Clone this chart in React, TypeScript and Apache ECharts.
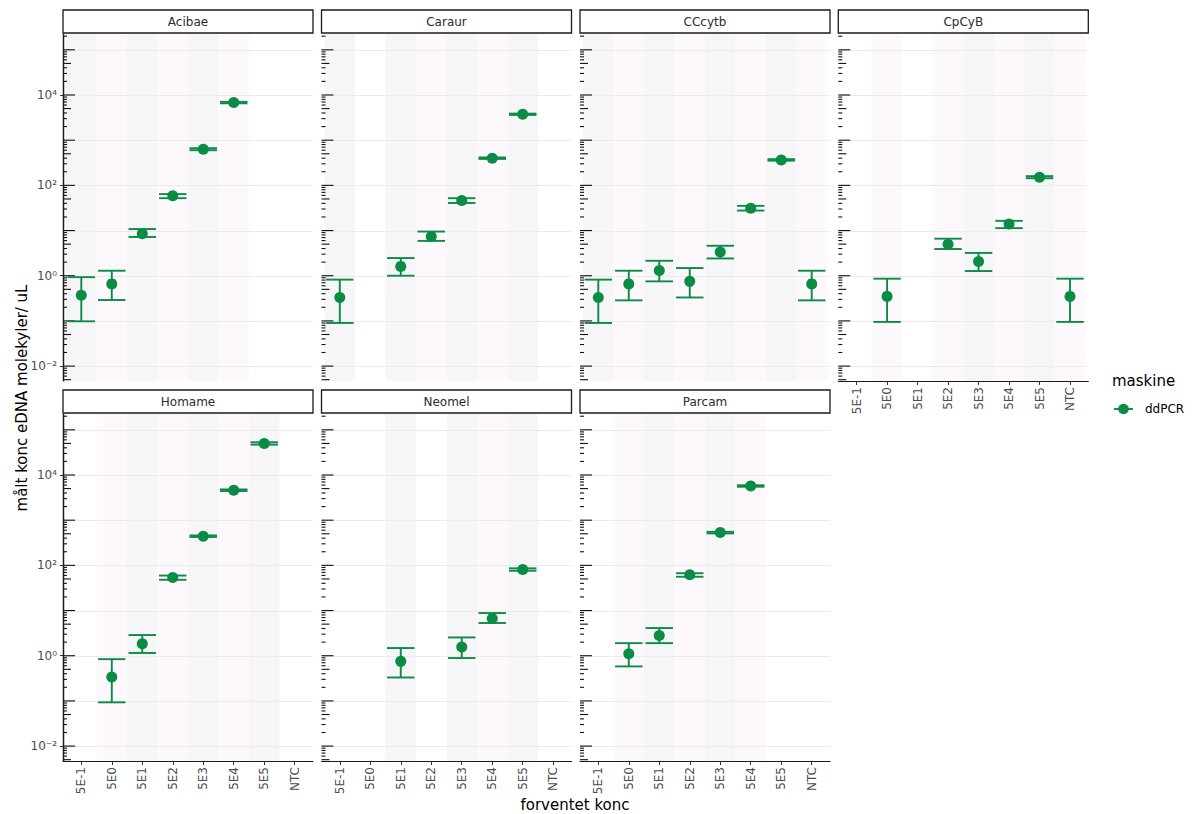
import React, { useEffect, useRef } from 'react';
import * as echarts from 'echarts';

// ---------- data ----------
const categories = ['5E-1', '5E0', '5E1', '5E2', '5E3', '5E4', '5E5', 'NTC'];
const panelNames = ['Acibae', 'Caraur', 'CCcytb', 'CpCyB', 'Homame', 'Neomel', 'Parcam'];
const legendTitle = 'maskine';
const seriesName = 'ddPCR';
const xTitle = 'forventet konc';
const yTitle = 'målt konc eDNA molekyler/ uL';

// [expected concentration, mean, lower, upper]
type Row = [string, number, number, number];
const acibae: Row[] = [
  ['5E-1', 0.37, 0.098, 0.93],
  ['5E0', 0.66, 0.29, 1.29],
  ['5E1', 8.5, 7.2, 10.8],
  ['5E2', 58.6, 52, 64],
  ['5E3', 630, 600, 665],
  ['5E4', 6800, 6550, 7050],
];
const caraur: Row[] = [
  ['5E-1', 0.33, 0.09, 0.82],
  ['5E1', 1.61, 1.0, 2.46],
  ['5E2', 7.4, 5.9, 9.5],
  ['5E3', 46, 40.7, 52],
  ['5E4', 400, 385, 415],
  ['5E5', 3740, 3620, 3870],
];
const cccytb: Row[] = [
  ['5E-1', 0.33, 0.09, 0.82],
  ['5E0', 0.66, 0.285, 1.29],
  ['5E1', 1.31, 0.75, 2.14],
  ['5E2', 0.75, 0.33, 1.48],
  ['5E3', 3.34, 2.41, 4.6],
  ['5E4', 31.3, 27.7, 35.2],
  ['5E5', 366, 352, 380],
  ['NTC', 0.66, 0.285, 1.29],
];
const cpcyb: Row[] = [
  ['5E0', 0.349, 0.095, 0.86],
  ['5E2', 5.0, 3.9, 6.6],
  ['5E3', 2.07, 1.27, 3.2],
  ['5E4', 13.9, 11.3, 16.4],
  ['5E5', 152, 144, 160],
  ['NTC', 0.349, 0.095, 0.86],
];
const homame: Row[] = [
  ['5E0', 0.338, 0.093, 0.84],
  ['5E1', 1.84, 1.15, 2.87],
  ['5E2', 53.8, 47.9, 59.5],
  ['5E3', 442, 425, 460],
  ['5E4', 4600, 4420, 4790],
  ['5E5', 50000, 47000, 53000],
];
const neomel: Row[] = [
  ['5E1', 0.75, 0.33, 1.48],
  ['5E3', 1.56, 0.89, 2.54],
  ['5E4', 6.7, 5.3, 8.8],
  ['5E5', 81, 76, 86],
];
const parcam: Row[] = [
  ['5E0', 1.1, 0.58, 1.9],
  ['5E1', 2.81, 1.9, 4.1],
  ['5E2', 61.7, 56, 67],
  ['5E3', 531, 510, 552],
  ['5E4', 5710, 5500, 5930],
];
const panelData: Row[][] = [acibae, caraur, cccytb, cpcyb, homame, neomel, parcam];

const yTickValues = [0.01, 1, 100, 10000];
const yTickLabels = ['10⁻²', '10⁰', '10²', '10⁴'];
const gridDecades = [-2, -1, 0, 1, 2, 3, 4, 5];
const logTickMultipliers = [1, 2, 3, 4, 5, 6, 7, 8, 9];
const logTickDecades = [-3, -2, -1, 0, 1, 2, 3, 4, 5];

// ---------- styling / layout ----------
const GREEN = '#0A8C45';
const FONT = 'DejaVu Sans';
const Y_MIN = Math.pow(10, -2.33);
const Y_MAX = Math.pow(10, 5.35);
const X_MIN = -0.6;
const X_MAX = 7.6;
const PANEL_W = 250;
const PANEL_H = 347;
const COL_LEFT = [63, 321.5, 580, 838.3];
const ROW_TOP = [34, 414];
const STRIP_H = 23;

const STRIPE_EVEN = '#F6F5F8';
const STRIPE_ODD = '#FDF8FC';
const GRID_COLOR = '#EBEBEB';

function buildOption() {
  const grids: any[] = [];
  const xAxes: any[] = [];
  const yAxes: any[] = [];
  const series: any[] = [];
  const graphics: any[] = [];

  const logTicks: number[][] = [];
  logTickDecades.forEach((d) => {
    logTickMultipliers.forEach((m) => {
      const v = m * Math.pow(10, d);
      if (v >= Y_MIN && v <= Y_MAX) logTicks.push([X_MIN, v, m]);
    });
  });
  const gridLines = gridDecades.map((d) => [X_MIN, Math.pow(10, d)]);

  panelNames.forEach((name, p) => {
    const row = p < 4 ? 0 : 1;
    const col = p < 4 ? p : p - 4;
    const left = COL_LEFT[col];
    const top = ROW_TOP[row];
    const showX = row === 1 || p === 3;
    const showY = col === 0;

    grids.push({ left, top, width: PANEL_W, height: PANEL_H, containLabel: false });

    xAxes.push({
      type: 'value',
      gridIndex: p,
      min: X_MIN,
      max: X_MAX,
      splitLine: { show: false },
      axisLine: { show: showX, onZero: false, lineStyle: { color: '#1a1a1a', width: 1.2 } },
      axisTick: {
        show: showX,
        length: 4,
        customValues: categories.map((_, i) => i),
        lineStyle: { color: '#333', width: 1 },
      },
      axisLabel: {
        show: showX,
        customValues: categories.map((_, i) => i),
        rotate: 90,
        margin: 6,
        fontSize: 12,
        fontFamily: FONT,
        color: '#4D4D4D',
        formatter: (v: number) => categories[Math.round(v)] ?? '',
      },
    });

    yAxes.push({
      type: 'log',
      logBase: 10,
      gridIndex: p,
      position: 'left',
      min: Y_MIN,
      max: Y_MAX,
      splitLine: { show: false },
      axisLine: { show: showY, onZero: false, lineStyle: { color: '#1a1a1a', width: 1.2 } },
      axisTick: {
        show: showY,
        length: 3,
        customValues: yTickValues,
        lineStyle: { color: '#333', width: 1 },
      },
      axisLabel: {
        show: showY,
        customValues: yTickValues,
        margin: 6,
        fontSize: 12,
        fontFamily: FONT,
        color: '#4D4D4D',
        formatter: (v: number) => {
          const l = Math.round(Math.log10(v));
          const idx = yTickValues.findIndex((t) => Math.round(Math.log10(t)) === l);
          return idx >= 0 ? yTickLabels[idx] : '';
        },
      },
    });

    const rows = panelData[p];

    // background stripes per category present in data
    series.push({
      type: 'custom',
      xAxisIndex: p,
      yAxisIndex: p,
      z: 1,
      silent: true,
      encode: { x: 0, y: 1 },
      data: rows.map((r) => [categories.indexOf(r[0]), 1]),
      renderItem: (params: any, api: any) => {
        const i = api.value(0);
        const cs = params.coordSys;
        const x0 = api.coord([i - 0.5, 1])[0];
        const x1 = api.coord([i + 0.5, 1])[0];
        return {
          type: 'rect',
          shape: { x: x0, y: cs.y, width: x1 - x0, height: cs.height },
          style: { fill: i % 2 === 0 ? STRIPE_EVEN : STRIPE_ODD },
        };
      },
    });

    // horizontal grid lines at each decade
    series.push({
      type: 'custom',
      xAxisIndex: p,
      yAxisIndex: p,
      z: 2,
      silent: true,
      encode: { x: 0, y: 1 },
      data: gridLines,
      renderItem: (params: any, api: any) => {
        const cs = params.coordSys;
        const y = Math.round(api.coord([X_MIN, api.value(1)])[1]) + 0.5;
        return {
          type: 'line',
          shape: { x1: cs.x, y1: y, x2: cs.x + cs.width, y2: y },
          style: { stroke: GRID_COLOR, lineWidth: 1 },
        };
      },
    });

    // log ticks (annotation_logticks on the left)
    series.push({
      type: 'custom',
      xAxisIndex: p,
      yAxisIndex: p,
      z: 3,
      silent: true,
      encode: { x: 0, y: 1 },
      data: logTicks,
      renderItem: (params: any, api: any) => {
        const m = api.value(2);
        const cs = params.coordSys;
        const y = api.coord([X_MIN, api.value(1)])[1];
        const len = m === 1 ? 12 : m === 5 ? 8 : 4;
        return {
          type: 'line',
          shape: { x1: cs.x, y1: y, x2: cs.x + len, y2: y },
          style: { stroke: '#111', lineWidth: 1.1 },
        };
      },
    });

    // error bars
    series.push({
      type: 'custom',
      name: seriesName,
      xAxisIndex: p,
      yAxisIndex: p,
      z: 4,
      silent: true,
      encode: { x: 0, y: [1, 2] },
      data: rows.map((r) => [categories.indexOf(r[0]), r[2], r[3]]),
      renderItem: (params: any, api: any) => {
        const i = api.value(0);
        const lo = api.coord([i, api.value(1)]);
        const hi = api.coord([i, api.value(2)]);
        const half = api.coord([i + 0.45, api.value(1)])[0] - lo[0];
        const style = { stroke: GREEN, lineWidth: 1.9 };
        return {
          type: 'group',
          children: [
            { type: 'line', shape: { x1: lo[0], y1: lo[1], x2: hi[0], y2: hi[1] }, style },
            { type: 'line', shape: { x1: lo[0] - half, y1: lo[1], x2: lo[0] + half, y2: lo[1] }, style },
            { type: 'line', shape: { x1: hi[0] - half, y1: hi[1], x2: hi[0] + half, y2: hi[1] }, style },
          ],
        };
      },
    });

    // points
    series.push({
      type: 'scatter',
      name: seriesName,
      xAxisIndex: p,
      yAxisIndex: p,
      z: 5,
      symbol: 'circle',
      symbolSize: 11,
      itemStyle: { color: GREEN, opacity: 1 },
      data: rows.map((r) => [categories.indexOf(r[0]), r[1]]),
    });

    // left axis line on outer panels
    if (showY) {
      graphics.push({
        type: 'line',
        shape: { x1: left + 0.5, y1: top, x2: left + 0.5, y2: top + PANEL_H },
        style: { stroke: '#1a1a1a', lineWidth: 1.3 },
        z: 20,
      });
    }

    // strip
    graphics.push({
      type: 'rect',
      shape: { x: left, y: top - STRIP_H - 1, width: PANEL_W, height: STRIP_H },
      style: { fill: '#fff', stroke: '#1a1a1a', lineWidth: 1.3 },
      z: 10,
    });
    graphics.push({
      type: 'text',
      x: left + PANEL_W / 2,
      y: top - STRIP_H / 2 - 1,
      style: {
        text: name,
        fill: '#2b2b2b',
        font: `12px "${FONT}"`,
        textAlign: 'center',
        textVerticalAlign: 'middle',
      },
      z: 11,
    });
  });

  // axis titles
  graphics.push({
    type: 'text',
    x: 22,
    y: 398,
    rotation: Math.PI / 2,
    style: {
      text: yTitle,
      fill: '#000',
      font: `15px "${FONT}"`,
      textAlign: 'center',
      textVerticalAlign: 'middle',
    },
  });
  graphics.push({
    type: 'text',
    x: 575,
    y: 805,
    style: {
      text: xTitle,
      fill: '#000',
      font: `15px "${FONT}"`,
      textAlign: 'center',
      textVerticalAlign: 'middle',
    },
  });

  // legend
  graphics.push({
    type: 'text',
    x: 1112,
    y: 381,
    style: { text: legendTitle, fill: '#000', font: `15px "${FONT}"`, textVerticalAlign: 'middle' },
  });
  graphics.push({
    type: 'line',
    shape: { x1: 1114, y1: 409, x2: 1133, y2: 409 },
    style: { stroke: GREEN, lineWidth: 1.9 },
  });
  graphics.push({
    type: 'circle',
    shape: { cx: 1123.5, cy: 409, r: 5.3 },
    style: { fill: GREEN },
  });
  graphics.push({
    type: 'text',
    x: 1145,
    y: 409,
    style: { text: seriesName, fill: '#000', font: `12px "${FONT}"`, textVerticalAlign: 'middle' },
  });

  return {
    animation: false,
    backgroundColor: '#fff',
    textStyle: { fontFamily: FONT },
    grid: grids,
    xAxis: xAxes,
    yAxis: yAxes,
    series,
    graphic: graphics,
  };
}

export default function App() {
  const ref = useRef<HTMLDivElement>(null);
  useEffect(() => {
    document.body.style.margin = '0';
    if (!ref.current) return;
    const chart = echarts.init(ref.current, undefined, { renderer: 'svg' });
    chart.setOption(buildOption() as any);
    return () => chart.dispose();
  }, []);
  return <div ref={ref} style={{ width: 1193, height: 814 }} />;
}
